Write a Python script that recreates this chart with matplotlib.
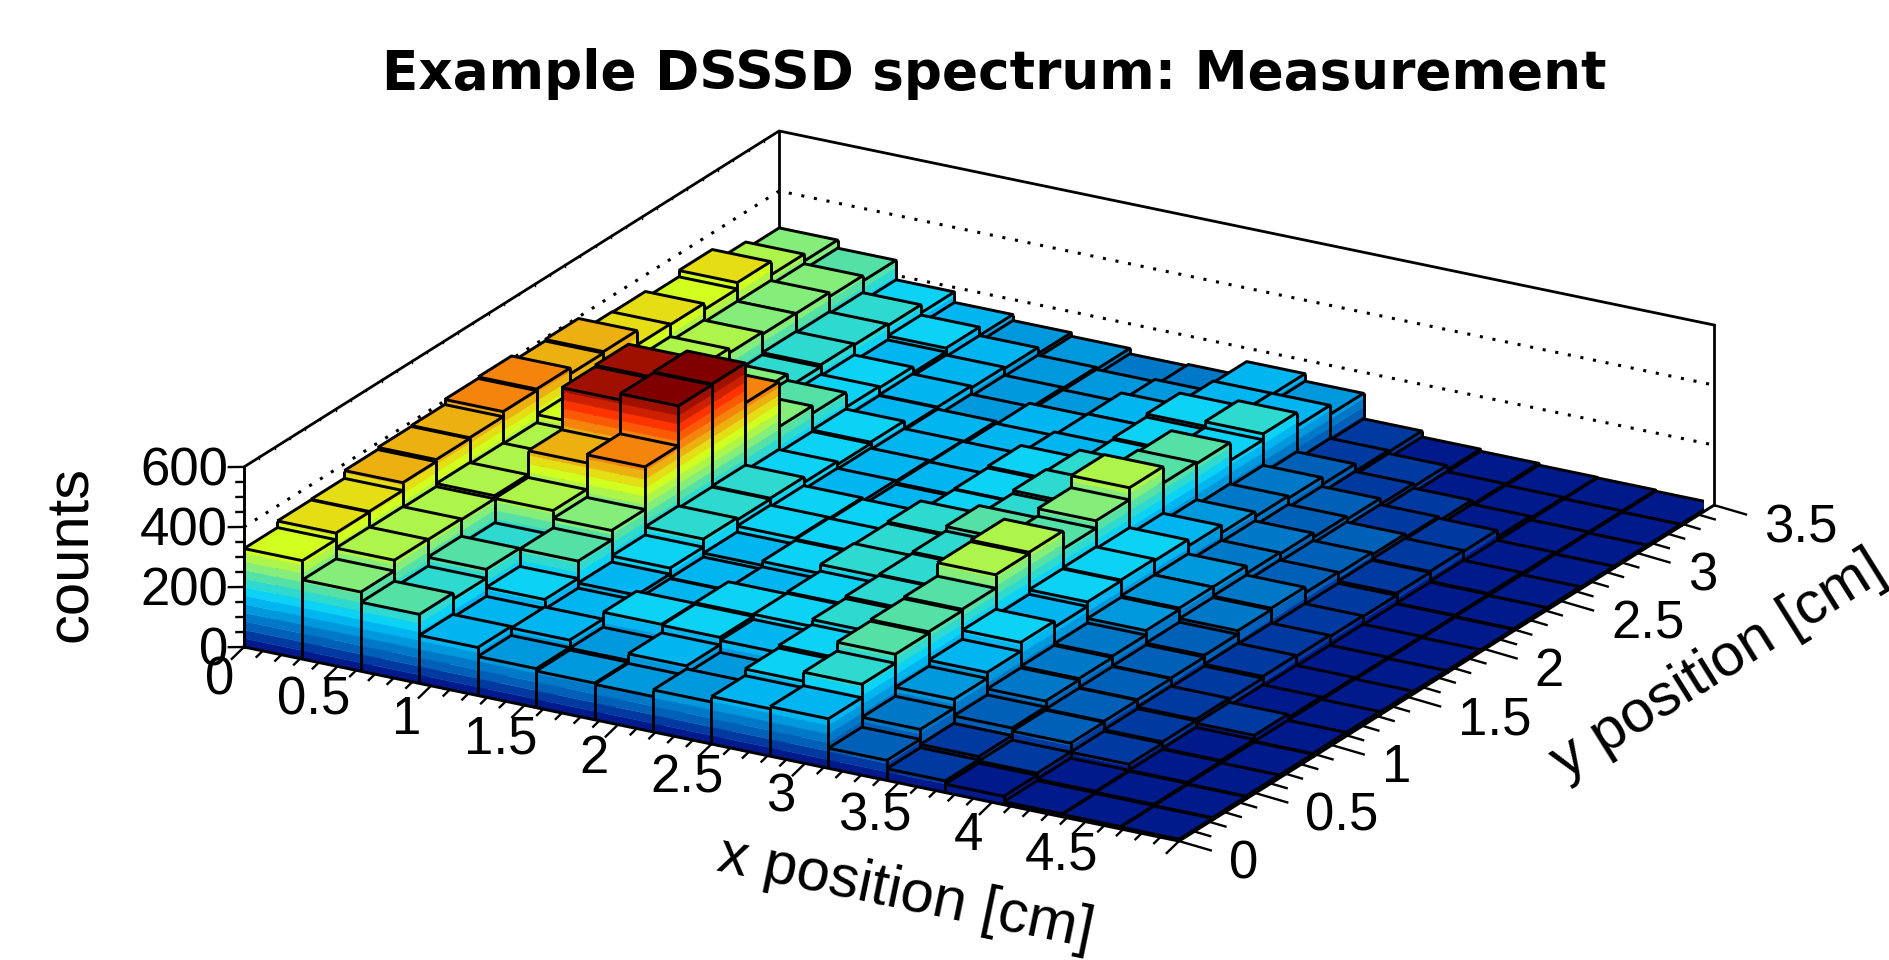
import numpy as np
import matplotlib
matplotlib.use('Agg')
import matplotlib.pyplot as plt
from mpl_toolkits.mplot3d import proj3d
from mpl_toolkits.mplot3d.art3d import Poly3DCollection, Line3DCollection

# counts per x strip, each list runs from y = 0 to the back of the detector
strip_00 = [328, 350, 352, 378, 385, 388, 405, 410, 390, 395, 347, 345, 324, 345, 300, 277]
strip_01 = [264, 300, 298, 295, 305, 300, 298, 325, 320, 318, 305, 290, 283, 282, 268, 250]
strip_02 = [230, 210, 240, 215, 296, 385, 525, 530, 350, 320, 260, 215, 222, 218, 212, 185]
strip_03 = [160, 150, 180, 238, 270, 412, 545, 548, 415, 265, 240, 190, 185, 165, 178, 150]
strip_04 = [130, 155, 148, 165, 185, 212, 205, 208, 190, 180, 185, 160, 162, 155, 150, 130]
strip_05 = [122, 128, 178, 150, 152, 165, 185, 180, 168, 165, 160, 155, 135, 128, 125, 118]
strip_06 = [118, 150, 175, 180, 160, 178, 182, 176, 155, 160, 158, 148, 145, 120, 118, 100]
strip_07 = [140, 125, 165, 182, 186, 208, 205, 210, 178, 180, 185, 160, 150, 150, 125, 105]
strip_08 = [158, 180, 188, 205, 212, 215, 220, 235, 205, 215, 210, 175, 180, 190, 160, 155]
strip_09 = [165, 210, 240, 245, 250, 295, 300, 240, 265, 305, 250, 245, 185, 205, 160, 130]
strip_10 = [67, 100, 130, 150, 180, 160, 175, 178, 172, 150, 125, 108, 100, 75, 50, 45]
strip_11 = [39, 50, 75, 95, 100, 105, 120, 125, 125, 100, 95, 80, 70, 50, 40, 25]
strip_12 = [28, 35, 65, 68, 70, 72, 78, 90, 95, 75, 70, 62, 50, 35, 20, 18]
strip_13 = [10, 15, 35, 40, 45, 42, 48, 45, 40, 38, 45, 48, 45, 22, 15, 12]
strip_14 = [8, 12, 15, 18, 32, 20, 15, 12, 12, 10, 12, 15, 12, 10, 10, 10]
strip_15 = [6, 8, 10, 10, 12, 12, 10, 8, 8, 6, 8, 8, 6, 6, 6, 6]
counts = np.array([strip_00, strip_01, strip_02, strip_03, strip_04, strip_05, strip_06, strip_07,
                   strip_08, strip_09, strip_10, strip_11, strip_12, strip_13, strip_14, strip_15])

x_ticks = [0, 0.5, 1, 1.5, 2, 2.5, 3, 3.5, 4, 4.5]
x_labels = ['0', '0.5', '1', '1.5', '2', '2.5', '3', '3.5', '4', '4.5']
y_ticks = [0, 0.5, 1, 1.5, 2, 2.5, 3, 3.5]
y_labels = ['0', '0.5', '1', '1.5', '2', '2.5', '3', '3.5']
z_ticks = [0, 200, 400, 600]
z_labels = ['0', '200', '400', '600']

palette = ['#001a8c', '#0039a0', '#0060b8', '#0078c8', '#0098dc', '#00b5f0', '#0cd2f6', '#2edad0',
           '#55e0a5', '#85ee7a', '#adf54a', '#d2ff20', '#e5de15', '#ecb010', '#f4840c', '#fa5a05',
           '#ff3300', '#cc2000', '#a01000', '#800000']
level_width = 28.5

x_max, y_max, z_max = 5.0, 3.5, 600.0
x_edges = np.linspace(0, x_max, 17)
y_edges = np.linspace(0, y_max, 17)

W, H = 1890, 960
fig = plt.figure(figsize=(W / 100, H / 100), dpi=100)
ax = fig.add_axes([0, 0, 1, 1], projection='3d', proj_type='ortho')
ax.set_xlim(0, x_max)
ax.set_ylim(0, y_max)
ax.set_zlim(0, z_max)
ax.view_init(elev=21.16, azim=-60.1)
ax.set_box_aspect((1078, 1073, 193))
ax.set_axis_off()
ax.computed_zorder = False


def to_px(x, y, z):
    xs, ys, _ = proj3d.proj_transform(x, y, z, ax.get_proj())
    return ax.transData.transform((xs, ys))


# put the box so that the left and front corners land where the reference has them
ax.apply_aspect()
p0 = to_px(0, 0, 0)
p1 = to_px(x_max, 0, 0)
box = ax.get_position()
size = box.width * W
center = np.array([(box.x0 + box.width / 2) * W, (box.y0 + box.height / 2) * H])
k = (1179 - 244) / (p1[0] - p0[0])
new_size = size * k
new_center = np.array([244, H - 647]) - k * (p0 - center)
ax.set_position([(new_center[0] - new_size / 2) / W, (new_center[1] - new_size / 2) / H,
                 new_size / W, new_size / H])
ax.apply_aspect()


def line(pts, lw=2.0, zorder=1, **kw):
    xs, ys, zs = zip(*pts)
    ax.plot(xs, ys, zs, color='black', lw=lw, zorder=zorder, clip_on=False, **kw)


# back walls
line([(0, 0, z_max), (0, y_max, z_max), (x_max, y_max, z_max)])
line([(0, y_max, 0), (0, y_max, z_max)])
line([(x_max, y_max, 0), (x_max, y_max, z_max)])
for z in [200, 400]:
    line([(0, 0, z), (0, y_max, z), (x_max, y_max, z)], lw=2.2, ls=(0, (1, 3.2)))
for y in np.arange(0.1, y_max, 0.1):
    line([(0, y, z_max - 4), (0, y, z_max + 4)], lw=1.0)

# bars, back to front
order = 10
for j in range(15, -1, -1):
    for i in range(16):
        v = counts[i, j]
        x0, x1 = x_edges[i], x_edges[i + 1]
        y0, y1 = y_edges[j], y_edges[j + 1]
        polys = []
        colors = []
        n = min(int(v // level_width), 19)
        for lev in range(n + 1):
            lo = lev * level_width
            hi = min((lev + 1) * level_width, v)
            polys.append([(x0, y0, lo), (x1, y0, lo), (x1, y0, hi), (x0, y0, hi)])
            colors.append(palette[lev])
            polys.append([(x1, y0, lo), (x1, y1, lo), (x1, y1, hi), (x1, y0, hi)])
            colors.append(palette[lev])
        polys.append([(x0, y0, v), (x1, y0, v), (x1, y1, v), (x0, y1, v)])
        colors.append(palette[n])
        fill = Poly3DCollection(polys, facecolors=colors, edgecolors=colors, linewidths=0.3, zorder=order)
        ax.add_collection3d(fill, autolim=False)
        outline = [
            [(x0, y0, v), (x1, y0, v), (x1, y1, v), (x0, y1, v), (x0, y0, v)],
            [(x0, y0, 0), (x0, y0, v)],
            [(x1, y0, 0), (x1, y0, v)],
            [(x1, y1, 0), (x1, y1, v)],
        ]
        edges = Line3DCollection(outline, colors='black', linewidths=2.1, zorder=order + 0.5)
        ax.add_collection3d(edges, autolim=False)
        order += 1

# axes in front of the bars
top = order + 10
line([(0, 0, 0), (x_max, 0, 0), (x_max, y_max, 0)], lw=2.1, zorder=top)
line([(0, 0, 0), (0, 0, z_max)], lw=2.1, zorder=top)

for x in np.arange(0, x_max + 0.01, 0.1):
    major = abs(x / 0.5 - round(x / 0.5)) < 1e-6
    f = 1.0 if major else 0.5
    line([(x, 0, 0), (x, -0.08 * f, -14 * f)], lw=1.7, zorder=top)
for y in np.arange(0, y_max + 0.01, 0.1):
    major = abs(y / 0.5 - round(y / 0.5)) < 1e-6
    f = 1.0 if major else 0.5
    line([(x_max, y, 0), (x_max + 0.17 * f, y, -9 * f)], lw=1.7, zorder=top)
for z in np.arange(0, z_max + 1, 50):
    f = 1.0 if z % 200 == 0 else 0.5
    line([(0, 0, z), (-0.06 * f, -0.026 * f, z)], lw=1.7, zorder=top)

label_font = dict(family='Liberation Sans', color='black', zorder=top + 1)
for t, s in zip(x_ticks, x_labels):
    ax.text(t, -0.157, -63, s, fontsize=38, ha='center', va='center', **label_font)
for t, s in zip(y_ticks, y_labels):
    ax.text(x_max + 0.267, t, -42, s, fontsize=38, ha='left', va='center', **label_font)
for t, s in zip(z_ticks, z_labels):
    ax.text(-0.0643, -0.026, t - 16, s, fontsize=38, ha='right', va='center', **label_font)

fig.text(994.5 / W, 1 - 74 / H, 'Example DSSSD spectrum: Measurement', fontsize=38.3, fontweight='bold',
         family='DejaVu Sans', ha='center', va='center')
fig.text(72 / W, 1 - 554 / H, 'counts', fontsize=43, family='Liberation Sans', rotation=90,
         ha='center', va='center')
fig.text(906 / W, 1 - 894 / H, 'x position [cm]', fontsize=43, family='Liberation Sans', rotation=-11.7,
         rotation_mode='anchor', ha='center', va='center')
fig.text(1718 / W, 1 - 665 / H, 'y position [cm]', fontsize=43, family='Liberation Sans', rotation=32,
         rotation_mode='anchor', ha='center', va='center')

fig.savefig('out.png', dpi=100)
